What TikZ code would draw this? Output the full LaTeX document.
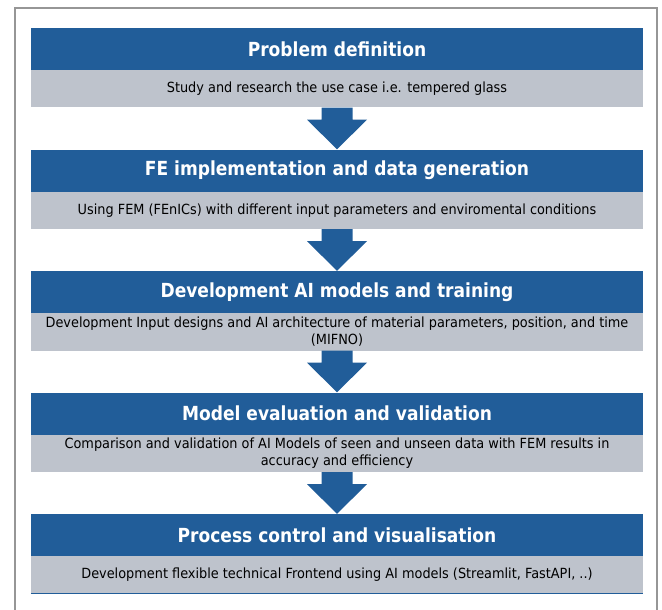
\documentclass[tikz,border=0pt]{standalone}
\usepackage{fontspec}
\setmainfont{DejaVu Sans}
\newfontfamily\titlefont{DejaVu Sans}[FakeStretch=0.88]
\newfontfamily\bodyfont{DejaVu Sans}[FakeStretch=0.92]
\usetikzlibrary{calc}
\definecolor{stepblue}{RGB}{33,93,153}
\definecolor{stepgray}{RGB}{190,195,204}
\definecolor{framegray}{RGB}{150,150,150}
\tikzset{
  titlebar/.style={fill=stepblue, minimum width=612pt, minimum height=42pt,
    inner sep=0pt, text=white, font=\titlefont\bfseries\fontsize{19.4}{22}\selectfont},
  bodybar/.style={fill=stepgray, minimum width=612pt, minimum height=37.5pt,
    inner sep=0pt, align=center, text=black, font=\bodyfont\fontsize{14}{16.5}\selectfont},
  flowarrow/.style={fill=stepblue}
}
\begin{document}
\begin{tikzpicture}[x=1pt,y=-1pt]
  \useasboundingbox (0,0) rectangle (662,610);
  % open frame around the chart
  \draw[framegray, line width=1.3pt] (15,610) -- (15,8) -- (657,8) -- (657,610);

  % the five stages
  \foreach \i/\ttl/\txt in {
    1/Problem definition/Study and research the use case i.e. tempered glass,
    2/FE implementation and data generation/Using FEM (FEnICs) with different input parameters and enviromental conditions,
    3/Development AI models and training/{Development Input designs and AI architecture of material parameters, position, and time\\(MIFNO)},
    4/Model evaluation and validation/{Comparison and validation of AI Models of seen and unseen data with FEM results in\\accuracy and efficiency},
    5/Process control and visualisation/{Development flexible technical Frontend using AI models (Streamlit, FastAPI, ..)}}
  {
    \pgfmathsetmacro{\off}{121.5*(\i-1)}
    \node[titlebar] (t\i) at (337,49+\off) {\ttl};
    \node[bodybar] (b\i) at (337,88.75+\off) {\txt};
  }
  \draw[stepblue, line width=1.5pt] (b5.south west) -- (b5.south east);

  % block arrows between consecutive stages
  \foreach \i [evaluate=\i as \j using int(\i+1)] in {1,2,3,4}
  {
    \fill[flowarrow]
      ($(b\i.south)+(-15.5,0)$) -- ++(0,12) -- ++(-14.5,0)
      -- (t\j.north)
      -- ($(b\i.south)+(30,12)$) -- ++(-14.5,0) -- ($(b\i.south)+(15.5,0)$) -- cycle;
  }
\end{tikzpicture}
\end{document}
